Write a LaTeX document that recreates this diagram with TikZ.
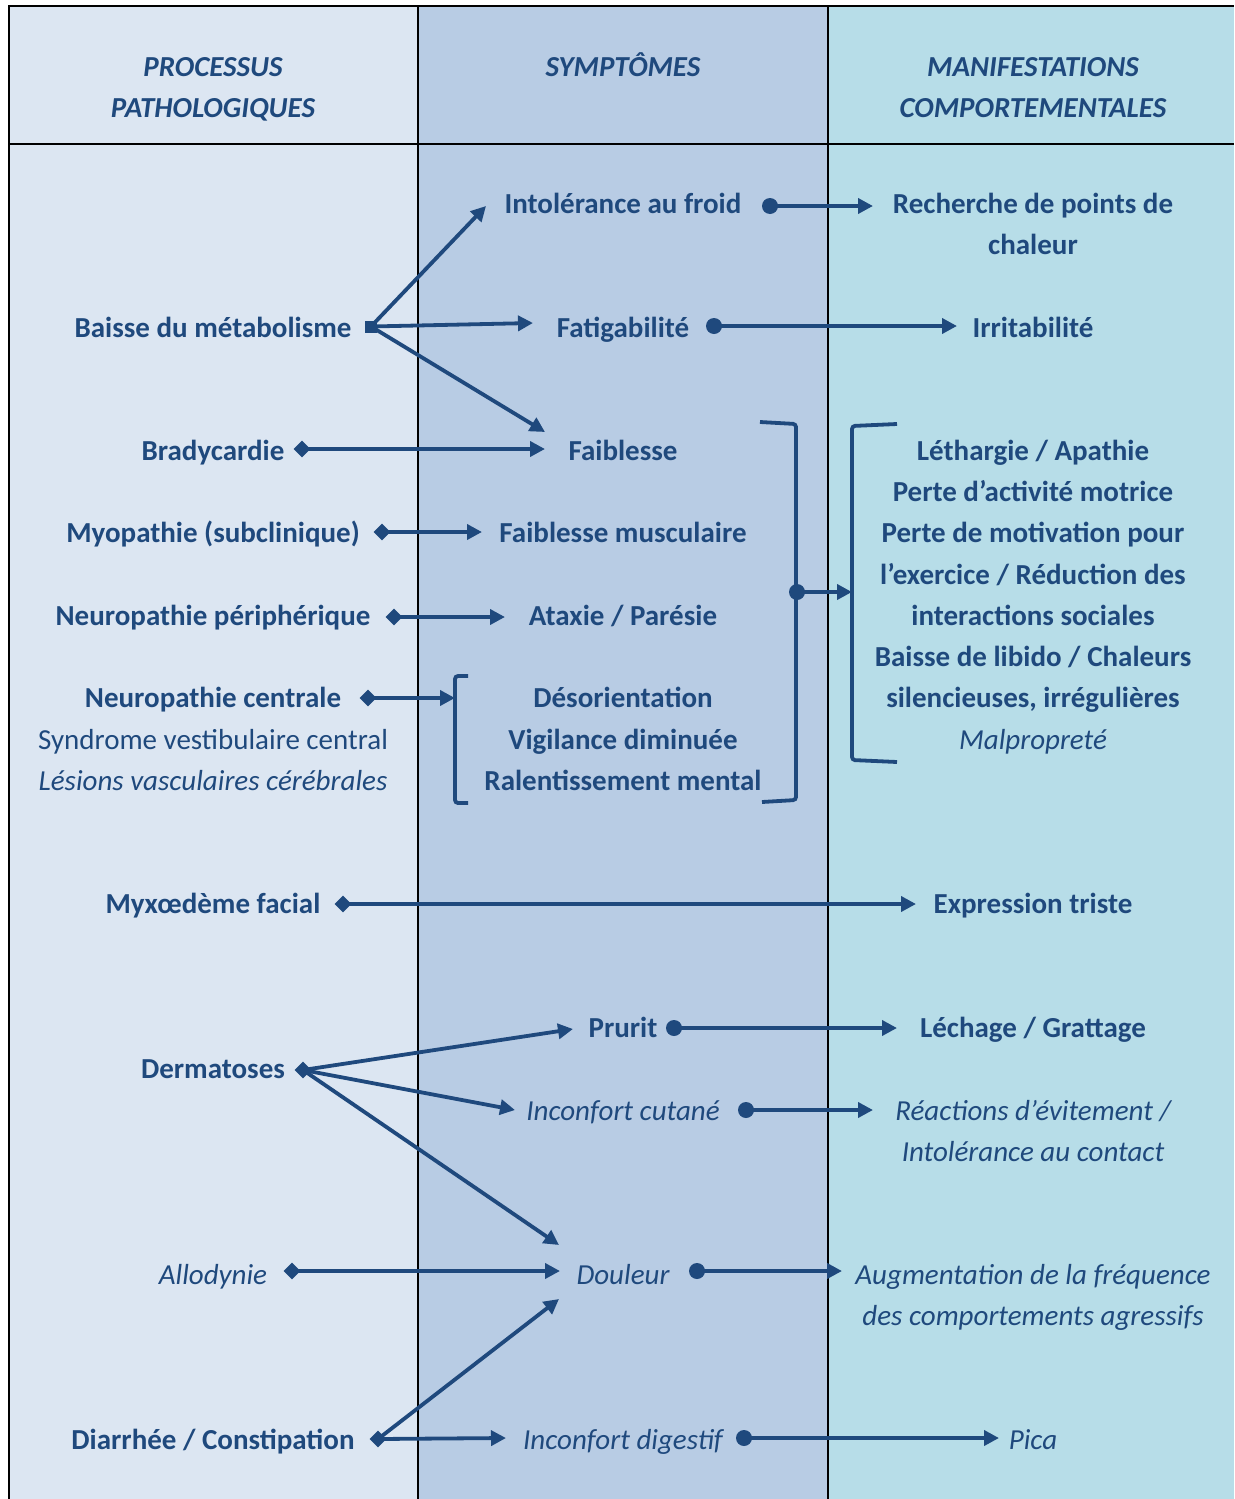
\documentclass[tikz,border=0pt]{standalone}
\usepackage{fontspec}
\setmainfont{Carlito}
\usetikzlibrary{arrows.meta,shapes.geometric}
\definecolor{navy}{HTML}{1F497D}
\definecolor{colA}{HTML}{DCE6F2}
\definecolor{colB}{HTML}{B8CCE4}
\definecolor{colC}{HTML}{B7DDE8}
\begin{document}
\begin{tikzpicture}[x=1pt,y=-1pt,
 txt/.style={anchor=base, inner sep=0pt, text=navy, font=\fontsize{29}{41}\selectfont\bfseries},
 itx/.style={txt, font=\fontsize{29}{41}\selectfont\itshape},
 nrm/.style={txt, font=\fontsize{29}{41}\selectfont},
 hdr/.style={txt, font=\fontsize{29}{41}\selectfont\bfseries\itshape},
 conn/.style={draw=navy, line width=3.8pt, -{Triangle[length=15pt,width=15pt]}},
 dia/.style={diamond, fill=navy, inner sep=0pt, minimum width=17pt, minimum height=17pt},
 dot/.style={circle, fill=navy, inner sep=0pt, minimum size=16pt},
 sqm/.style={rectangle, fill=navy, inner sep=0pt, minimum size=12pt},
 brk/.style={draw=navy, line width=3.8pt, rounded corners=3pt},
 rulel/.style={draw=black, line width=2.5pt}
]
\useasboundingbox (0,0) rectangle (1234,1499);
\fill[white] (0,0) rectangle (1234,1499);
\fill[colA] (9,6) rectangle (418,1499);
\fill[colB] (418,6) rectangle (828,1499);
\fill[colC] (828,6) rectangle (1234,1499);
\draw[rulel] (8,6) -- (1234,6);
\draw[rulel] (8,144) -- (1234,144);
\draw[rulel] (9,5) -- (9,1499);
\draw[rulel] (418,5) -- (418,1499);
\draw[rulel] (828,5) -- (828,1499);

% headers
\node[hdr] (h1a) at (213,76) {PROCESSUS};
\node[hdr] (h1b) at (213,117) {PATHOLOGIQUES};
\node[hdr] (h2) at (623,76) {SYMPTÔMES};
\node[hdr] (h3a) at (1033,76) {MANIFESTATIONS};
\node[hdr] (h3b) at (1033,117) {COMPORTEMENTALES};

% column 1
\node[txt] (bm) at (213,337) {Baisse du métabolisme};
\node[txt] (brady) at (213,460) {Bradycardie};
\node[txt] (myo) at (213,542) {Myopathie (subclinique)};
\node[txt] (neurop) at (213,625) {Neuropathie périphérique};
\node[txt] (neuroc) at (213,707) {Neuropathie centrale};
\node[nrm] (svc) at (213,749) {Syndrome vestibulaire central};
\node[itx] (lvc) at (213,790) {Lésions vasculaires cérébrales};
\node[txt] (myx) at (213,913) {Myxœdème facial};
\node[txt] (derm) at (213,1078) {Dermatoses};
\node[itx] (allo) at (213,1284) {Allodynie};
\node[txt] (diar) at (213,1449) {Diarrhée / Constipation};

% column 2
\node[txt] (intol) at (623,213) {Intolérance au froid};
\node[txt] (fatig) at (623,337) {Fatigabilité};
\node[txt] (faib) at (623,460) {Faiblesse};
\node[txt] (faibm) at (623,542) {Faiblesse musculaire};
\node[txt] (atax) at (623,625) {Ataxie / Parésie};
\node[txt] (deso) at (623,707) {Désorientation};
\node[txt] (vigi) at (623,749) {Vigilance diminuée};
\node[txt] (ralen) at (623,790) {Ralentissement mental};
\node[txt] (prur) at (623,1037) {Prurit};
\node[itx] (inccut) at (623,1120) {Inconfort cutané};
\node[itx] (doul) at (623,1284) {Douleur};
\node[itx] (incdig) at (623,1449) {Inconfort digestif};

% column 3
\node[txt] (rech) at (1033,213) {Recherche de points de};
\node[txt] (chal) at (1033,254) {chaleur};
\node[txt] (irri) at (1033,337) {Irritabilité};
\node[txt] (leth) at (1033,460) {Léthargie / Apathie};
\node[txt] (perte) at (1033,501) {Perte d’activité motrice};
\node[txt] (motiv) at (1033,542) {Perte de motivation pour};
\node[txt] (exer) at (1033,584) {l’exercice / Réduction des};
\node[txt] (inter) at (1033,625) {interactions sociales};
\node[txt] (libi) at (1033,666) {Baisse de libido / Chaleurs};
\node[txt] (sile) at (1033,707) {silencieuses, irrégulières};
\node[itx] (malp) at (1033,749) {Malpropreté};
\node[txt] (expr) at (1033,913) {Expression triste};
\node[txt] (lech) at (1033,1037) {Léchage / Grattage};
\node[itx] (reac) at (1033,1120) {Réactions d’évitement /};
\node[itx] (intc) at (1033,1161) {Intolérance au contact};
\node[itx] (augm) at (1033,1284) {Augmentation de la fréquence};
\node[itx] (desc) at (1033,1325) {des comportements agressifs};
\node[itx] (pica) at (1033,1449) {Pica};

% brackets
\draw[brk] (468,676) -- (455,676) -- (455,803) -- (468,803);
\draw[brk] (760,422) -- (796,424) -- (796,800) -- (762,802);
\draw[brk] (897,424) -- (852,426) -- (852,760) -- (897,762);

% markers
\node[sqm] (sqBM) at (371,326.5) {};
\node[dia] (dBrady) at (302,449) {};
\node[dia] (dMyo) at (382,532) {};
\node[dia] (dNeuroP) at (394,617) {};
\node[dia] (dNeuroC) at (368,698) {};
\node[dia] (dMyx) at (343,904) {};
\node[dia] (dDerm) at (303,1070) {};
\node[dia] (dAllo) at (292,1271) {};
\node[dia] (dDiar) at (378,1439) {};
\node[dot] (cIntol) at (770,206) {};
\node[dot] (cFatig) at (714,326) {};
\node[dot] (cBrk) at (797,592) {};
\node[dot] (cPrur) at (674,1028) {};
\node[dot] (cInc) at (746,1110) {};
\node[dot] (cDoul) at (697,1271) {};
\node[dot] (cDig) at (744,1438) {};

% tips
\coordinate (tIntol) at (486,206);
\coordinate (tFatig) at (533,323);
\coordinate (tFaibA) at (545,432);
\coordinate (tFaibB) at (545,449);
\coordinate (tMyo) at (482,532);
\coordinate (tNeuroP) at (505,617);
\coordinate (tNeuroC) at (455,698);
\coordinate (tRech) at (873,206);
\coordinate (tIrri) at (957,326);
\coordinate (tBrk) at (852,592);
\coordinate (tExpr) at (916,904);
\coordinate (tPrur) at (573,1029);
\coordinate (tIncA) at (515,1110);
\coordinate (tDoulA) at (559,1245);
\coordinate (tDoulB) at (560,1271);
\coordinate (tDoulC) at (559,1299);
\coordinate (tDig) at (506,1438);
\coordinate (tLech) at (897,1028);
\coordinate (tReac) at (873,1110);
\coordinate (tAugm) at (842,1271);
\coordinate (tPica) at (999,1438);

% connectors
\draw[conn] (sqBM.center) -- (tIntol);
\draw[conn] (sqBM.center) -- (tFatig);
\draw[conn] (sqBM.center) -- (tFaibA);
\draw[conn] (dBrady.center) -- (tFaibB);
\draw[conn] (dMyo.center) -- (tMyo);
\draw[conn] (dNeuroP.center) -- (tNeuroP);
\draw[conn] (dNeuroC.center) -- (tNeuroC);
\draw[conn] (cIntol.center) -- (tRech);
\draw[conn] (cFatig.center) -- (tIrri);
\draw[conn] (cBrk.center) -- (tBrk);
\draw[conn] (dMyx.center) -- (tExpr);
\draw[conn] (dDerm.center) -- (tPrur);
\draw[conn] (dDerm.center) -- (tIncA);
\draw[conn] (dDerm.center) -- (tDoulA);
\draw[conn] (dAllo.center) -- (tDoulB);
\draw[conn] (dDiar.center) -- (tDoulC);
\draw[conn] (dDiar.center) -- (tDig);
\draw[conn] (cPrur.center) -- (tLech);
\draw[conn] (cInc.center) -- (tReac);
\draw[conn] (cDoul.center) -- (tAugm);
\draw[conn] (cDig.center) -- (tPica);
\end{tikzpicture}
\end{document}
